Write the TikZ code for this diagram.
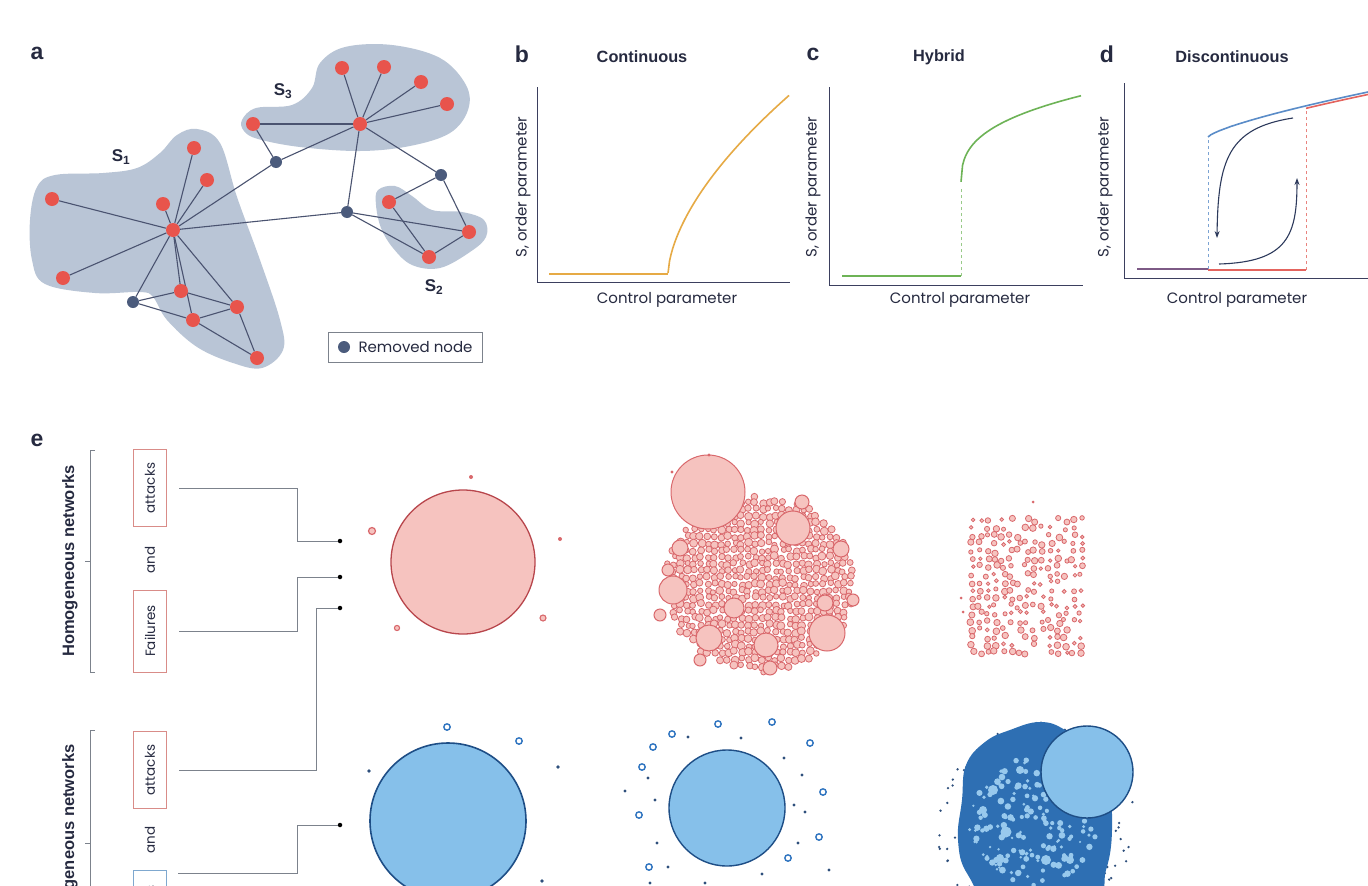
\documentclass[tikz,border=0pt]{standalone}
\usepackage{fontspec}
\setmainfont{Poppins}
\newfontfamily\arialf{Liberation Sans}
\usetikzlibrary{arrows.meta,backgrounds}
\definecolor{nred}{HTML}{E8544C}
\definecolor{nblue}{HTML}{4B5B7C}
\definecolor{edgec}{HTML}{4A5370}
\definecolor{blobc}{HTML}{B9C5D6}
\definecolor{axisc}{HTML}{3B3F5E}
\definecolor{orangec}{HTML}{E6AA45}
\definecolor{greenc}{HTML}{6DB356}
\definecolor{dblue}{HTML}{5A8CC8}
\definecolor{dred}{HTML}{E4645E}
\definecolor{dpurp}{HTML}{7D5A86}
\definecolor{pinkf}{HTML}{F6C3BF}
\definecolor{pinks}{HTML}{D9686C}
\definecolor{bigred}{HTML}{B8464C}
\definecolor{lblue}{HTML}{86C0EA}
\definecolor{bstroke}{HTML}{1E4E86}
\definecolor{ringb}{HTML}{2F74C0}
\definecolor{dotb}{HTML}{2E4F7C}
\definecolor{blobb}{HTML}{2E6FB3}
\definecolor{linec}{HTML}{7C828C}
\definecolor{boxred}{HTML}{D98C88}
\definecolor{boxblue}{HTML}{7FA8CF}
\definecolor{txt}{HTML}{262A40}
\definecolor{arrc}{HTML}{2D3A5C}
\tikzset{
  rnode/.style={circle,fill=nred,inner sep=0pt,minimum size=14pt},
  bnode/.style={circle,fill=nblue,inner sep=0pt,minimum size=12pt},
  edge/.style={draw=edgec,line width=1.1pt},
  blob/.style={fill=blobc},
  panel/.style={font=\arialf\bfseries\fontsize{23}{25}\selectfont,text=txt},
  ptitle/.style={font=\arialf\bfseries\fontsize{16.3}{18}\selectfont,text=txt},
  lab/.style={font=\fontsize{15}{17}\selectfont,text=txt},
  axis/.style={draw=axisc,line width=1pt},
  ebox/.style={draw=#1,line width=1pt,rotate=90,minimum height=33pt,inner sep=0pt,font=\fontsize{13.5}{15}\selectfont,text=txt},
  conn/.style={draw=linec,line width=0.9pt},
  edot/.style={circle,fill=black,inner sep=0pt,minimum size=4.5pt},
  rsmall/.style={draw=pinks,fill=pinkf,line width=0.8pt},
  rbig/.style={draw=pinks,fill=pinkf,line width=1pt},
  bring/.style={draw=ringb,fill=white,line width=1.4pt},
  bdot/.style={fill=dotb},
}
\begin{document}
\begin{tikzpicture}[x=1pt,y=-1pt]
\useasboundingbox (0,0) rectangle (1368,886);

% ---------------- panel a ----------------
\node[panel] (la) at (37,53) {a};
\node[rnode] (h1) at (173,230) {};
\node[rnode] (l1) at (194,148) {};
\node[rnode] (l2) at (207,180) {};
\node[rnode] (l3) at (163,204) {};
\node[rnode] (l4) at (52,199) {};
\node[rnode] (l5) at (63,278) {};
\node[rnode] (m1) at (181,291) {};
\node[rnode] (m2) at (193,320) {};
\node[rnode] (m3) at (237,307) {};
\node[rnode] (m4) at (257,358) {};
\node[bnode] (b1) at (133,302) {};
\node[rnode] (h3) at (360,124) {};
\node[rnode] (t1) at (342,68) {};
\node[rnode] (t2) at (384,67) {};
\node[rnode] (t3) at (421,82) {};
\node[rnode] (t4) at (447,104) {};
\node[rnode] (t5) at (253,124) {};
\node[bnode] (b2) at (276,162) {};
\node[bnode] (b3) at (441,175) {};
\node[bnode] (b4) at (347,212) {};
\node[rnode] (s1) at (389,202) {};
\node[rnode] (s2) at (469,232) {};
\node[rnode] (s3) at (429,257) {};
\begin{pgfonlayer}{background}
\fill[white] (0,0) rectangle (1368,886);
\fill[blob] plot[smooth cycle,tension=0.6] coordinates {(197,129) (220,143) (237,197) (260,260) (280,320) (283,350) (262,368) (233,363) (197,347) (167,320) (153,297) (140,292) (95,293) (45,284) (32,260) (30,220) (37,187) (55,175) (103,173) (137,168) (160,153) (177,135)};
\fill[blob] plot[smooth cycle,tension=0.6] coordinates {(242,120) (256,108) (292,105) (312,88) (320,63) (345,47) (392,45) (440,58) (466,85) (468,110) (450,133) (410,146) (360,151) (300,147) (258,139) (244,131)};
\fill[blob] plot[smooth cycle,tension=0.6] coordinates {(378,190) (395,186) (412,196) (432,210) (462,212) (484,220) (486,237) (470,252) (440,268) (412,265) (393,248) (381,228) (376,205)};
\foreach \a/\b in {h1/l1,h1/l2,h1/l3,h1/l4,h1/l5,h1/m1,h1/m2,h1/m3,h1/b1,h1/b2,h1/b4,b1/m1,b1/m2,m1/m3,m2/m3,m2/m4,m3/m4,h3/t1,h3/t2,h3/t3,h3/t4,h3/t5,h3/b2,h3/b3,h3/b4,t5/b2,b3/s1,b3/s2,b4/s2,b4/s3,s1/s3,s2/s3}
  \draw[edge] (\a) -- (\b);
\end{pgfonlayer}
\node[font=\arialf\bfseries\fontsize{17}{19}\selectfont,text=txt] (S1) at (121,157) {S\textsubscript{1}};
\node[font=\arialf\bfseries\fontsize{17}{19}\selectfont,text=txt] (S3) at (283,91) {S\textsubscript{3}};
\node[font=\arialf\bfseries\fontsize{17}{19}\selectfont,text=txt] (S2) at (434,287) {S\textsubscript{2}};
\node[draw=linec,line width=0.8pt,minimum width=154pt,minimum height=30pt] (leg) at (405,347) {};
\node[bnode] (legdot) at (344,347) {};
\node[lab,anchor=west] (legtxt) at (355,347) {Removed node};

% ---------------- panel b ----------------
\node[panel] (lb) at (522,54) {b};
\node[ptitle] (tb) at (642,57) {Continuous};
\draw[axis] (537,87) -- (537,282) -- (790,282);
\draw[orangec,line width=1.6pt] (549,274) -- (668,274);
\draw[orangec,line width=1.6pt] plot[domain=0.02:121,samples=80] ({668+\x},{274-10.05*(\x)^0.6});
\node[lab,rotate=90] (yb) at (523,187) {S, order parameter};
\node[lab] (xb) at (667,300) {Control parameter};

% ---------------- panel c ----------------
\node[panel] (lc) at (813,54) {c};
\node[ptitle] (tc) at (939,57) {Hybrid};
\draw[axis] (829,87) -- (829,285) -- (1083,285);
\draw[greenc,line width=1.6pt] (842,276) -- (961,276);
\draw[greenc!70,line width=0.7pt,dashed] (961,276) -- (961,187);
\draw[greenc,line width=1.6pt] plot[domain=0.02:120,samples=80] ({961+\x},{187-18.8*(\x)^0.33});
\node[lab,rotate=90] (yc) at (813,187) {S, order parameter};
\node[lab] (xc) at (960,300) {Control parameter};

% ---------------- panel d ----------------
\node[panel] (ld) at (1107,54) {d};
\node[ptitle] (td) at (1232,57) {Discontinuous};
\draw[axis] (1124,83) -- (1124,278) -- (1368,278);
\draw[dred!80,line width=0.7pt,dashed] (1306,270) -- (1306,108);
\draw[dblue!80,line width=0.7pt,dashed] (1208,269) -- (1208,137);
\draw[dpurp,line width=1.6pt] (1137,269) -- (1208,269);
\draw[dred,line width=1.6pt] (1208,270) -- (1306,270);
\draw[dred,line width=1.6pt] plot[domain=98:165,samples=30] ({1208+\x},{139.5-45*(\x/160)^0.75});
\draw[dblue,line width=1.6pt] plot[domain=0.02:165,samples=60] ({1208+\x},{137-45*(\x/160)^0.75});
\coordinate (a1s) at (1293,118);
\coordinate (a1e) at (1217,238);
\coordinate (a2s) at (1219,264);
\coordinate (a2e) at (1297,178);
\draw[arrc,line width=1.1pt,-{Stealth[length=7pt,width=5pt]}] (a1s) .. controls (1228,128) and (1218,160) .. (a1e);
\draw[arrc,line width=1.1pt,-{Stealth[length=7pt,width=5pt]}] (a2s) .. controls (1288,262) and (1297,235) .. (a2e);
\node[lab,rotate=90] (yd) at (1105,187) {S, order parameter};
\node[lab] (xd) at (1237,300) {Control parameter};

% ---------------- panel e ----------------
\node[panel] (le) at (37,440) {e};
\draw[conn] (95,450) -- (90,450) -- (90,672) -- (95,672);
\draw[conn] (90,561) -- (85,561);
\draw[conn] (95,730) -- (90,730) -- (90,900);
\draw[conn] (90,843) -- (85,843);
\node[font=\arialf\bfseries\fontsize{16.5}{18}\selectfont,text=txt,rotate=90] (hom) at (70,561) {Homogeneous networks};
\node[font=\arialf\bfseries\fontsize{16.5}{18}\selectfont,text=txt,rotate=90] (het) at (70,843) {Heterogeneous networks};
\node[ebox=boxred,minimum width=77pt] (atk1) at (150,488) {attacks};
\node[lab,rotate=90,font=\fontsize{13.5}{15}\selectfont] (and1) at (150,560) {and};
\node[ebox=boxred,minimum width=82pt] (fail1) at (150,631) {Failures};
\node[ebox=boxred,minimum width=77pt] (atk2) at (150,770) {attacks};
\node[lab,rotate=90,font=\fontsize{13.5}{15}\selectfont] (and2) at (150,840) {and};
\node[ebox=boxblue,minimum width=82pt] (fail2) at (150,911) {Failures};
\node[edot] (d1) at (340,541) {};
\node[edot] (d2) at (340,577) {};
\node[edot] (d3) at (340,608) {};
\node[edot] (d4) at (340,825) {};
\coordinate (f2c) at (178,873);
\draw[conn] ([xshift=12pt]atk1.south) -| (297,541) -- (d1);
\draw[conn] ([xshift=12pt]fail1.south) -| (297,577) -- (d2);
\draw[conn] ([xshift=12pt]atk2.south) -| (316,608) -- (d3);
\draw[conn] (f2c) -| (297,825) -- (d4);

% row 1, red
\draw[draw=bigred,fill=pinkf,line width=1.3pt] (463,562) circle[radius=72];
\draw[rsmall,line width=1.2pt] (372,531) circle[radius=3.5];
\fill[pinks] (471,477) circle[radius=2];
\fill[pinks] (560,539) circle[radius=2];
\draw[rsmall,line width=1.1pt] (543,618) circle[radius=3];
\draw[rsmall,line width=1.1pt] (397,628) circle[radius=2.6];

\pgfmathsetseed{11}
\foreach \i in {0,...,29}{
  \foreach \j in {0,...,27}{
    \pgfmathsetmacro{\px}{660+\i*6.8+1.6*rand}
    \pgfmathsetmacro{\py}{489+\j*6.8+1.6*rand}
    \pgfmathsetmacro{\dd}{((\px-760)/97)^2+((\py-584)/90)^2+0.1*rnd}
    \pgfmathsetmacro{\rr}{2.6+1.5*rnd}
    \ifdim \dd pt<1pt \draw[rsmall] (\px,\py) circle[radius=\rr]; \fi
  }
}
\foreach \cx/\cy/\cr in {793/528/17,841/549/8,673/590/14,734/608/10,709/638/13,766/645/12,827/633/18,825/603/8,680/548/8,802/502/7,853/600/6,668/570/6,770/668/7,700/660/6,660/615/6}
  \draw[rbig] (\cx,\cy) circle[radius=\cr];
\draw[rbig] (708,492) circle[radius=37];
\fill[pinks] (709,455) circle[radius=1.6];
\fill[pinks] (672,472) circle[radius=1.6];

\pgfmathsetseed{5}
\foreach \i in {0,...,14}{
  \foreach \j in {0,...,17}{
    \pgfmathsetmacro{\px}{972+\i*7.8+2.2*rand}
    \pgfmathsetmacro{\py}{520+\j*7.8+2.2*rand}
    \pgfmathsetmacro{\kk}{rnd}
    \pgfmathsetmacro{\rr}{1.7+1.7*rnd}
    \ifdim \kk pt<0.8pt \draw[rsmall,line width=0.8pt] (\px,\py) circle[radius=\rr]; \fi
  }
}
\fill[pinks] (1033,502) circle[radius=1.5];
\fill[pinks] (961,598) circle[radius=1.5];
\fill[pinks] (963,612) circle[radius=1.5];

% row 2, blue
\draw[draw=bstroke,fill=lblue,line width=1.6pt] (448,821) circle[radius=78];
\draw[bring] (447,727) circle[radius=3.2];
\draw[bring] (519,741) circle[radius=3.2];
\foreach \cx/\cy in {369/771,558/767,542/881}
  \fill[bdot] (\cx,\cy) circle[radius=1.8];

\draw[draw=bstroke,fill=lblue,line width=1.4pt] (727,808) circle[radius=58];
\foreach \cx/\cy in {672/734,718/724,772/722,810/743,653/747,642/767,823/792,639/815,819/837,788/858,649/867}
  \draw[bring] (\cx,\cy) circle[radius=3.2];
\foreach \cx/\cy in {688/737,741/738,784/758,802/775,648/778,625/791,655/800,794/805,805/812,657/843,798/843,668/867,762/874,829/870,650/883,705/883}
  \fill[bdot] (\cx,\cy) circle[radius=1.7];

\pgfmathsetseed{3}
\foreach \k in {1,...,70}{
  \pgfmathsetmacro{\ang}{360*rnd}
  \pgfmathsetmacro{\rad}{78+22*rnd}
  \fill[bdot] ({1035+\rad*cos(\ang)},{822+\rad*sin(\ang)}) circle[radius=1.3];
}
\fill[blobb] plot[smooth cycle,tension=0.7] coordinates {(962,800) (966,765) (985,742) (1010,730) (1040,722) (1065,730) (1090,752) (1108,790) (1112,830) (1106,870) (1090,900) (1000,905) (968,875) (958,840)};
\pgfmathsetseed{9}
\foreach \k in {1,...,170}{
  \pgfmathsetmacro{\ang}{360*rnd}
  \pgfmathsetmacro{\rad}{64*sqrt(rnd)}
  \pgfmathsetmacro{\rr}{1.2+2.2*rnd}
  \fill[lblue!85] ({1033+\rad*cos(\ang)},{822+\rad*sin(\ang)}) circle[radius=\rr];
}
\foreach \cx/\cy/\cr in {993/790/5,1006/832/5.5,983/810/4,1020/770/4,1046/860/5,1070/860/4,1000/858/4}
  \fill[lblue!85] (\cx,\cy) circle[radius=\cr];
\draw[draw=bstroke,fill=lblue,line width=1.4pt] (1087,772) circle[radius=46];
\end{tikzpicture}
\end{document}
